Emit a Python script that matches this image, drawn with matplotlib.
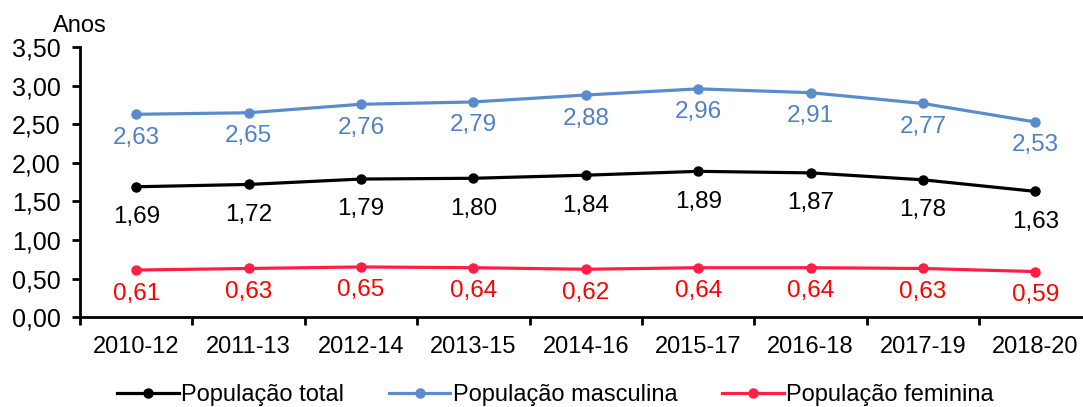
import matplotlib
matplotlib.use('Agg')
import matplotlib.pyplot as plt

periods = ['2010-12', '2011-13', '2012-14', '2013-15', '2014-16',
           '2015-17', '2016-18', '2017-19', '2018-20']
total = [1.69, 1.72, 1.79, 1.80, 1.84, 1.89, 1.87, 1.78, 1.63]
masculina = [2.63, 2.65, 2.76, 2.79, 2.88, 2.96, 2.91, 2.77, 2.53]
feminina = [0.61, 0.63, 0.65, 0.64, 0.62, 0.64, 0.64, 0.63, 0.59]

plt.rcParams['font.family'] = ['Liberation Sans', 'DejaVu Sans']

fig = plt.figure(figsize=(10.83, 4.07), dpi=100)
ax = fig.add_axes([0.0739, 0.221, 0.934, 0.663])

x = range(len(periods))
series = [
    (total, 'População total', '#000000', '#000000', 14),
    (masculina, 'População masculina', '#5B8BCB', '#4F81C4', 9),
    (feminina, 'População feminina', '#FF1F44', '#FF0000', 9),
]
for vals, label, col, tcol, off in series:
    ax.plot(x, vals, color=col, lw=2.3, marker='o', ms=6.5, label=label)
    for xi, v in zip(x, vals):
        ax.annotate(f'{v:.2f}'.replace('.', ','), (xi, v), xytext=(0, -off),
                    textcoords='offset points', ha='center', va='top',
                    fontsize=17.5, color=tcol)

ax.set_xlim(-0.5, len(periods) - 0.5)
ax.set_ylim(0, 3.5)
ax.set_yticks([0, 0.5, 1, 1.5, 2, 2.5, 3, 3.5])
ax.set_yticklabels([f'{t:.2f}'.replace('.', ',') for t in ax.get_yticks()], fontsize=18)
ax.set_xticks(list(x))
ax.set_xticklabels(periods, fontsize=17)
ax.set_xticks([i + 0.5 for i in range(-1, len(periods))], minor=True)
ax.tick_params(axis='x', which='major', length=0, pad=14)
ax.tick_params(axis='x', which='minor', length=6, width=2, direction='out')
ax.tick_params(axis='y', length=6, width=2, direction='out', pad=8)
for s in ['top', 'right']:
    ax.spines[s].set_visible(False)
for s in ['left', 'bottom']:
    ax.spines[s].set_linewidth(2)

ax.text(0.0, 1.055, 'Anos', transform=ax.transAxes, fontsize=17,
        ha='center', va='baseline')

ax.legend(loc='center', bbox_to_anchor=(0.47, -0.29), ncol=3, frameon=False,
          fontsize=17, handlelength=2.6, handletextpad=0.1, columnspacing=1.9,
          borderaxespad=0, borderpad=0)

fig.savefig('out.png', dpi=100)
